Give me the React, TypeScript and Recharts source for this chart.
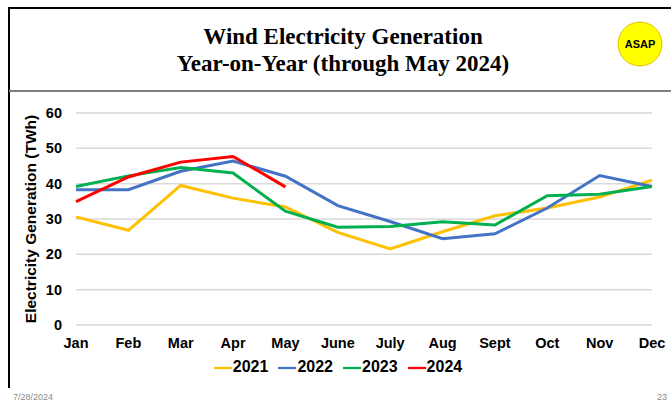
import { LineChart, Line, XAxis, YAxis, CartesianGrid, Legend } from 'recharts';

const months = ['Jan', 'Feb', 'Mar', 'Apr', 'May', 'June', 'July', 'Aug', 'Sept', 'Oct', 'Nov', 'Dec'];
const y2021 = [30.6, 26.8, 39.5, 35.9, 33.4, 26.2, 21.5, 26.4, 30.9, 33.1, 36.2, 41.0];
const y2022 = [38.3, 38.3, 43.5, 46.4, 42.1, 33.8, 29.3, 24.4, 25.8, 33.1, 42.3, 39.2];
const y2023 = [39.2, 42.2, 44.6, 43.0, 32.2, 27.7, 27.9, 29.2, 28.3, 36.6, 37.0, 39.2];
const y2024 = [34.9, 41.9, 46.1, 47.7, 39.1];
const yTicks = [0, 10, 20, 30, 40, 50, 60];

const series = [
  { key: '2021', values: y2021, color: '#FFC000' },
  { key: '2022', values: y2022, color: '#4472C4' },
  { key: '2023', values: y2023, color: '#00B050' },
  { key: '2024', values: y2024, color: '#FF0000' },
];

const data = months.map((m, i) => {
  const row: Record<string, string | number | null> = { month: m };
  series.forEach(s => {
    row[s.key] = i < s.values.length ? s.values[i] : null;
  });
  return row;
});

const sans = '"Liberation Sans", Arial, sans-serif';

export default function App() {
  return (
    <div style={{ position: 'absolute', left: 0, top: 0, width: 671, height: 404, background: '#fff', overflow: 'hidden' }}>
      {/* slide frame */}
      <svg width={671} height={404} style={{ position: 'absolute', left: 0, top: 0 }}>
        <line x1={9} y1={8} x2={671} y2={8} stroke="#000" strokeWidth={2} />
        <line x1={9} y1={7} x2={9} y2={388} stroke="#000" strokeWidth={2} />
        <line x1={9} y1={91} x2={671} y2={91} stroke="#7f7f7f" strokeWidth={2} />
        <circle cx={640} cy={44} r={22} fill="#FFFF00" stroke="#E0C000" strokeWidth={1} />
        <text x={640} y={48} textAnchor="middle" fontFamily={sans} fontWeight="bold" fontSize={11} fill="#000">ASAP</text>
        <text x={13} y={400} fontFamily={sans} fontSize={9} fill="#8c8c8c">7/28/2024</text>
        <text x={667} y={400} textAnchor="end" fontFamily={sans} fontSize={9} fill="#8c8c8c">23</text>
      </svg>
      <div style={{ position: 'absolute', left: 0, top: 23, width: 686, textAlign: 'center', fontFamily: '"Liberation Serif", "Times New Roman", serif', fontWeight: 'bold', fontSize: 23, lineHeight: '27px', color: '#000' }}>
        Wind Electricity Generation<br />Year-on-Year (through May 2024)
      </div>
      <div style={{ position: 'absolute', left: 0, top: 0 }}>
        <LineChart width={671} height={404} data={data} margin={{ top: 113, right: 19, bottom: 49, left: 10 }}>
          <CartesianGrid vertical={false} stroke="#d9d9d9" strokeWidth={1.5} />
          <XAxis
            dataKey="month"
            axisLine={false}
            tickLine={false}
            height={30}
            tickMargin={7}
            tick={{ fill: '#000', fontSize: 14.5, fontWeight: 'bold', fontFamily: sans }}
            interval={0}
          />
          <YAxis
            domain={[0, 60]}
            ticks={yTicks}
            width={66}
            axisLine={false}
            tickLine={false}
            tickMargin={8}
            tick={{ fill: '#000', fontSize: 14.5, fontWeight: 'bold', fontFamily: sans }}
            label={{
              value: 'Electricity Generation (TWh)',
              angle: -90,
              position: 'insideLeft',
              offset: 20,
              style: { textAnchor: 'middle', fill: '#000', fontSize: 15.5, fontWeight: 'bold', fontFamily: sans },
            }}
          />
          <Legend
            verticalAlign="middle"
            align="center"
            iconType="plainline"
            iconSize={18}
            wrapperStyle={{ top: 358, left: 0, width: 686 }}
            formatter={(value: string) => (
              <span style={{ color: '#000', fontWeight: 'bold', fontSize: 16, fontFamily: sans, marginLeft: -3 }}>{value}</span>
            )}
          />
          {series.map(s => (
            <Line
              key={s.key}
              type="linear"
              dataKey={s.key}
              name={s.key}
              stroke={s.color}
              strokeWidth={3}
              dot={false}
              activeDot={false}
              isAnimationActive={false}
            />
          ))}
        </LineChart>
      </div>
    </div>
  );
}
